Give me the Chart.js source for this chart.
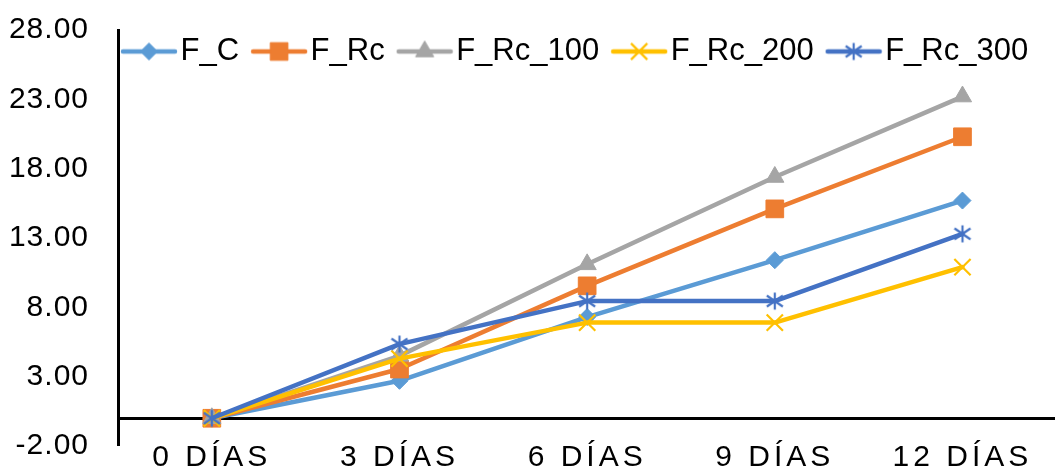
<!DOCTYPE html>
<html>
<head>
<meta charset="utf-8">
<script src="https://cdn.jsdelivr.net/npm/chart.js@4/dist/chart.umd.min.js"></script>
<style>
  html, body { margin: 0; padding: 0; background: #fff; overflow: hidden; }
  #wrap { width: 1070px; height: 470px; }
</style>
</head>
<body>
<div id="wrap"><canvas id="c" width="1070" height="470"></canvas></div>
<script>
// Categories (days) and one array per series
const categories = ['0 D\u00CDAS', '3 D\u00CDAS', '6 D\u00CDAS', '9 D\u00CDAS', '12 D\u00CDAS'];
const seriesNames = ['F_C', 'F_Rc', 'F_Rc_100', 'F_Rc_200', 'F_Rc_300'];
const fC      = [0, 2.7, 7.3, 11.4, 15.7];
const fRc     = [0, 3.55, 9.55, 15.1, 20.3];
const fRc100  = [0, 4.5, 11.1, 17.4, 23.2];
const fRc200  = [0, 4.3, 6.9, 6.9, 10.9];
const fRc300  = [0, 5.35, 8.45, 8.45, 13.3];
const yTicks  = [-2, 3, 8, 13, 18, 23, 28];

const FONT = 'Liberation Sans, Arial, sans-serif';
const colors = ['#5B9BD5', '#ED7D31', '#A5A5A5', '#FFC000', '#4472C4'];

// Asterisk marker: vertical bar plus two diagonals
function makeAsterisk(color) {
  const cv = document.createElement('canvas');
  cv.width = 20; cv.height = 20;
  const g = cv.getContext('2d');
  g.strokeStyle = color; g.lineWidth = 2.2; g.lineCap = 'butt';
  g.beginPath();
  g.moveTo(10, 1.5); g.lineTo(10, 18.5);
  g.moveTo(2, 4.5);  g.lineTo(18, 15.5);
  g.moveTo(18, 4.5); g.lineTo(2, 15.5);
  g.stroke();
  return cv;
}

const markerStyles = ['rectRot', 'rect', 'triangle', 'crossRot', makeAsterisk(colors[4])];
const markerRadius = [8.5, 12.5, 10.5, 11.5, 9];
const markerBorder = [1, 1, 1, 2.2, 1];

// Legend sample: short line with the series marker in the middle
function makeIcon(i) {
  const cv = document.createElement('canvas');
  cv.width = 58; cv.height = 24;
  const g = cv.getContext('2d');
  g.strokeStyle = colors[i]; g.lineWidth = 4.5; g.lineCap = 'round';
  g.beginPath(); g.moveTo(3, 12); g.lineTo(55, 12); g.stroke();
  g.fillStyle = colors[i]; g.strokeStyle = colors[i]; g.lineWidth = markerBorder[i]; g.lineCap = 'butt';
  Chart.helpers.drawPoint(g, {
    pointStyle: markerStyles[i], radius: markerRadius[i], rotation: 0, borderWidth: markerBorder[i]
  }, 29, 12);
  return cv;
}
const legendIcons = seriesNames.map((_, i) => makeIcon(i));

const seriesValues = [fC, fRc, fRc100, fRc200, fRc300];
const datasets = seriesNames.map((name, i) => ({
  label: name,
  data: seriesValues[i],
  borderColor: colors[i],
  backgroundColor: colors[i],
  borderWidth: 4.5,
  borderCapStyle: 'round',
  borderJoinStyle: 'round',
  tension: 0,
  pointStyle: markerStyles[i],
  pointRadius: markerRadius[i],
  pointHoverRadius: markerRadius[i],
  pointBorderWidth: markerBorder[i],
  pointBackgroundColor: colors[i],
  pointBorderColor: colors[i],
  order: seriesNames.length - i
}));

// Wrap a scale's label drawing with extra letter spacing and no clipping
function spaceLabels(scale, spacing) {
  if (!scale || scale._spaced) return;
  const draw = scale.drawLabels;
  scale._computeLabelArea = () => undefined;
  scale.drawLabels = function (area) {
    const ctx = this.ctx;
    ctx.save();
    ctx.letterSpacing = spacing;
    draw.call(this, area);
    ctx.restore();
  };
  scale._spaced = true;
}

// Legend floats over the top of the plot
const layoutTweaks = {
  id: 'layoutTweaks',
  beforeLayout(chart) {
    const lg = chart.legend;
    if (lg && !lg._flat) {
      const fit = lg.fit;
      lg.fit = function () { fit.call(this); this.height = 0; };
      lg._flat = true;
    }
  },
  afterLayout(chart) {
    const lg = chart.legend;
    if (lg) {
      lg.left = 109; lg.top = 12;
      lg.right = chart.width; lg.bottom = 80;
      lg.width = lg.right - lg.left; lg.height = lg.bottom - lg.top;
    }
    spaceLabels(chart.scales.x, '4px');
    spaceLabels(chart.scales.y, '1px');
  }
};

new Chart(document.getElementById('c'), {
  type: 'line',
  data: { labels: categories, datasets },
  plugins: [layoutTweaks],
  options: {
    responsive: false,
    animation: false,
    devicePixelRatio: 1,
    layout: { padding: { top: 30, right: 2, left: 0, bottom: 0 } },
    plugins: {
      tooltip: { enabled: false },
      legend: {
        position: 'top',
        align: 'start',
        labels: {
          usePointStyle: true,
          pointStyleWidth: 32,
          padding: 24,
          color: '#000',
          font: { family: FONT, size: 31 },
          sort: (a, b) => a.datasetIndex - b.datasetIndex,
          generateLabels(chart) {
            const items = Chart.defaults.plugins.legend.labels.generateLabels(chart);
            items.forEach(it => { it.pointStyle = legendIcons[it.datasetIndex]; it.fontColor = '#000'; });
            return items;
          }
        }
      }
    },
    scales: {
      x: {
        type: 'category',
        offset: true,
        grid: { display: false, drawTicks: false },
        border: { display: false },
        ticks: {
          color: '#000',
          font: { family: FONT, size: 30 },
          padding: -6,
          maxRotation: 0, minRotation: 0, autoSkip: false
        },
        afterFit(s) { s.height = 24; s.paddingLeft = 0; s.paddingRight = 0; }
      },
      y: {
        min: -2,
        max: 28,
        afterBuildTicks(s) {
          s.ticks = [...yTicks, 0].sort((a, b) => a - b).map(v => ({ value: v }));
        },
        ticks: {
          autoSkip: false,
          color: '#000',
          font: { family: FONT, size: 30 },
          padding: 29,
          callback: v => (v === 0 ? '' : Number(v).toFixed(2))
        },
        grid: {
          drawTicks: false,
          color: c => (c.tick && c.tick.value === 0 ? '#000' : 'rgba(0,0,0,0)'),
          lineWidth: c => (c.tick && c.tick.value === 0 ? 3 : 0)
        },
        border: { color: '#000', width: 3 },
        afterFit(s) { s.width = 118; s.paddingTop = 0; s.paddingBottom = 0; }
      }
    }
  }
});
</script>
</body>
</html>
